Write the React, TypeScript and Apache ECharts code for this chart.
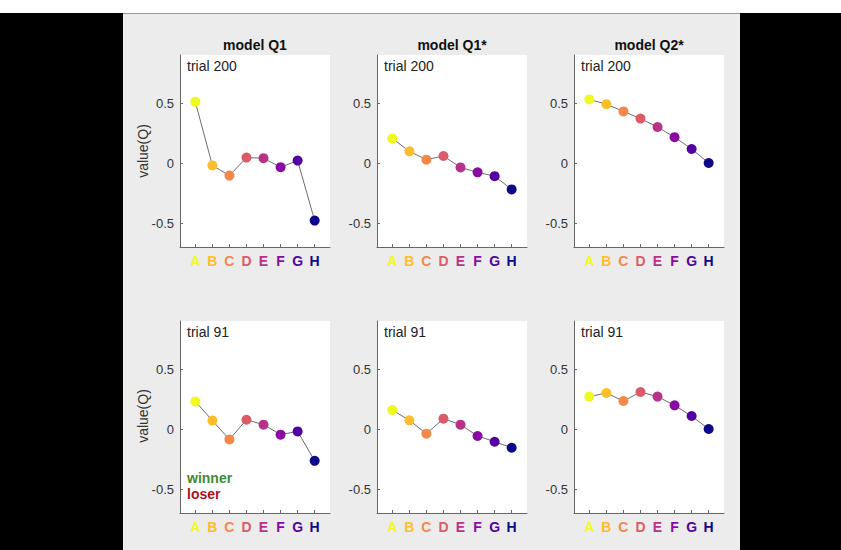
import React, { useEffect, useRef } from "react";
import * as echarts from "echarts";

// ---- data ----
const categories = ["A", "B", "C", "D", "E", "F", "G", "H"];
const catColors = ["#f0f921", "#febd2a", "#f48849", "#db5c68", "#b83289", "#8b0aa5", "#5302a3", "#0d0887"];
const modelTitles = ["model Q1", "model Q1*", "model Q2*"];
const trialLabels = ["trial 200", "trial 91"];
const yTicks = [-0.5, 0, 0.5];

const q1Trial200 = [0.51, -0.02, -0.105, 0.045, 0.04, -0.035, 0.02, -0.48];
const q1sTrial200 = [0.205, 0.097, 0.028, 0.058, -0.037, -0.078, -0.11, -0.22];
const q2sTrial200 = [0.53, 0.49, 0.43, 0.37, 0.3, 0.215, 0.117, 0.0];
const q1Trial91 = [0.23, 0.07, -0.087, 0.077, 0.036, -0.047, -0.02, -0.265];
const q1sTrial91 = [0.158, 0.072, -0.039, 0.086, 0.036, -0.058, -0.106, -0.156];
const q2sTrial91 = [0.27, 0.3, 0.233, 0.308, 0.27, 0.197, 0.108, 0.0];

const panels = [
  [q1Trial200, q1sTrial200, q2sTrial200],
  [q1Trial91, q1sTrial91, q2sTrial91],
];

const FONT = "'Liberation Sans', Arial, Helvetica, sans-serif";

export default function App() {
  const ref = useRef<HTMLDivElement>(null);

  useEffect(() => {
    if (!ref.current) return;
    const chart = echarts.init(ref.current, undefined, { renderer: "svg" });

    const colLefts = [180, 377, 574];
    const rowTops = [55, 321];
    const gw = 150;
    const gh = 192;

    const grids: any[] = [];
    const xAxes: any[] = [];
    const yAxes: any[] = [];
    const series: any[] = [];
    const graphics: any[] = [];

    const rich: any = {};
    categories.forEach((c, i) => {
      rich["c" + (i + 1)] = { color: catColors[i], fontWeight: "bold", fontSize: 14, fontFamily: FONT };
    });

    let idx = 0;
    for (let r = 0; r < 2; r++) {
      for (let c = 0; c < 3; c++) {
        grids.push({
          left: colLefts[c],
          top: rowTops[r],
          width: gw,
          height: gh,
          show: true,
          backgroundColor: "#ffffff",
          borderWidth: 0,
        });
        xAxes.push({
          type: "value",
          gridIndex: idx,
          min: 0.1,
          max: 8.9,
          splitLine: { show: false },
          axisLine: { show: true, onZero: false, lineStyle: { color: "#666", width: 1 } },
          axisTick: { show: true, inside: true, length: 3, customValues: [1, 2, 3, 4, 5, 6, 7, 8], lineStyle: { color: "#666" } },
          axisLabel: {
            show: true,
            margin: 7,
            customValues: [1, 2, 3, 4, 5, 6, 7, 8],
            formatter: (v: number) => {
              const k = Math.round(v);
              return k >= 1 && k <= 8 ? `{c${k}|${categories[k - 1]}}` : "";
            },
            rich,
          },
        });
        yAxes.push({
          type: "value",
          gridIndex: idx,
          min: -0.7,
          max: 0.9,
          splitLine: { show: false },
          axisLine: { show: true, onZero: false, lineStyle: { color: "#666", width: 1 } },
          axisTick: { show: true, inside: true, length: 3, customValues: yTicks, lineStyle: { color: "#666" } },
          axisLabel: {
            show: true,
            margin: 6,
            customValues: yTicks,
            color: "#333",
            fontSize: 13,
            fontFamily: FONT,
            formatter: (v: number) => (Math.abs(v) < 1e-9 ? "0" : String(v)),
          },
        });
        const vals = panels[r][c];
        series.push({
          type: "line",
          xAxisIndex: idx,
          yAxisIndex: idx,
          data: vals.map((v, i) => [i + 1, v]),
          symbol: "circle",
          symbolSize: 10,
          lineStyle: { color: "#6e6e6e", width: 1 },
          itemStyle: { color: (p: any) => catColors[p.dataIndex] },
          emphasis: { disabled: true },
          z: 3,
        });

        graphics.push({
          type: "text",
          left: colLefts[c] + 7,
          top: rowTops[r] + 4,
          z: 10,
          style: { text: trialLabels[r], fill: "#222", font: `14px ${FONT}` },
        });
        idx++;
      }
    }

    // titles
    modelTitles.forEach((t, c) => {
      graphics.push({
        type: "text",
        x: colLefts[c] + gw / 2,
        y: 45,
        z: 10,
        style: { text: t, fill: "#111", font: `bold 14px ${FONT}`, textAlign: "center", textVerticalAlign: "middle" },
      });
    });

    // y-axis names
    [151, 416].forEach((cy) => {
      graphics.push({
        type: "text",
        x: 143,
        y: cy,
        rotation: Math.PI / 2,
        z: 10,
        style: { text: "value(Q)", fill: "#333", font: `14px ${FONT}`, textAlign: "center", textVerticalAlign: "middle" },
      });
    });

    graphics.push({
      type: "text",
      x: 187,
      y: 478,
      z: 10,
      style: { text: "winner", fill: "#3f8a35", font: `bold 14px ${FONT}`, textVerticalAlign: "middle" },
    });
    graphics.push({
      type: "text",
      x: 187,
      y: 494,
      z: 10,
      style: { text: "loser", fill: "#b0101a", font: `bold 14px ${FONT}`, textVerticalAlign: "middle" },
    });

    chart.setOption({
      animation: false,
      backgroundColor: "transparent",
      grid: grids,
      xAxis: xAxes,
      yAxis: yAxes,
      series,
      graphic: graphics,
    });

    return () => chart.dispose();
  }, []);

  return (
    <div style={{ position: "absolute", left: 0, top: 0, width: 841, height: 550, background: "#000", overflow: "hidden" }}>
      <div style={{ position: "absolute", left: 0, top: 0, width: 841, height: 13, background: "#fff" }} />
      <div
        style={{
          position: "absolute",
          left: 123,
          top: 13,
          width: 617,
          height: 537,
          background: "#ececec",
          borderTop: "1px solid #9a9a9a",
          boxSizing: "border-box",
        }}
      />
      <div ref={ref} style={{ position: "absolute", left: 0, top: 0, width: 841, height: 550 }} />
    </div>
  );
}
